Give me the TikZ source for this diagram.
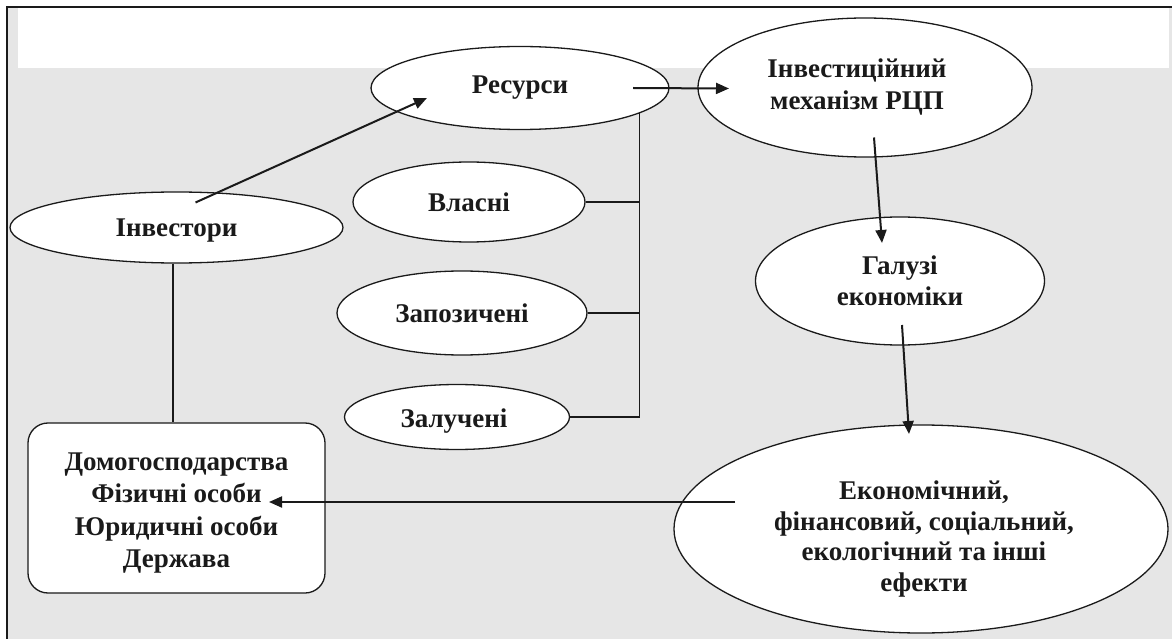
\documentclass[tikz,border=0pt]{standalone}
\usepackage{fontspec}
\setmainfont{Liberation Serif}
\usetikzlibrary{shapes.geometric,arrows.meta}
\definecolor{bggray}{HTML}{E6E6E6}
\definecolor{ink}{HTML}{1A1A1A}
\begin{document}
\begin{tikzpicture}[x=1bp,y=-1bp,
  lbl/.style={font=\fontsize{27bp}{31.5bp}\selectfont\bfseries, text=ink, align=center},
  oval/.style={ellipse, draw=ink, line width=1.3bp, fill=white, inner sep=0pt, lbl},
  arr/.style={draw=ink, line width=2bp, -{Triangle[length=13bp,width=11bp]}},
  link/.style={draw=ink, line width=1.3bp}]
\useasboundingbox (0,0) rectangle (1172,639);
\fill[bggray] (7,7) rectangle (1172,639);
\fill[white] (18,7) rectangle (1169,68);
\draw[ink, line width=2.2bp] (7,639) -- (7,7) -- (1172,7);

\node[oval, minimum width=298bp, minimum height=83bp] (res) at (520,88) {Ресурси};
\node[oval, minimum width=334bp, minimum height=139bp] (mech) at (865,87.5) {};
\node[lbl, inner sep=0pt] (mechtext) at (857,87) {Інвестиційний\\механізм РЦП};
\node[oval, minimum width=333bp, minimum height=71bp] (inv) at (176.5,227.5) {};
\node[lbl, inner sep=0pt] (invtext) at (176.5,231) {Інвестори};
\node[oval, minimum width=232bp, minimum height=80bp] (vl) at (469,202) {Власні};
\node[oval, minimum width=250bp, minimum height=84bp] (zap) at (462,313) {Запозичені};
\node[oval, minimum width=225bp, minimum height=65bp] (zal) at (457,417) {};
\node[lbl, inner sep=0pt] (zaltext) at (454,421) {Залучені};
\node[oval, minimum width=289bp, minimum height=128bp] (gal) at (900,281) {Галузі\\економіки};
\node[oval, minimum width=494bp, minimum height=208bp] (ef) at (921,529) {};
\node[lbl, inner sep=0pt, font=\fontsize{27bp}{30.5bp}\selectfont\bfseries] (eftext) at (924,539) {Економічний,\\фінансовий, соціальний,\\екологічний та інші\\ефекти};
\node[draw=ink, line width=1.3bp, fill=white, rounded corners=20bp, minimum width=297bp, minimum height=170bp, lbl, font=\fontsize{27bp}{32.3bp}\selectfont\bfseries] (box) at (176.5,508) {};
\node[lbl, inner sep=0pt, font=\fontsize{27bp}{32.3bp}\selectfont\bfseries] (boxtext) at (176.5,513) {Домогосподарства\\Фізичні особи\\Юридичні особи\\Держава};

\draw[link] (res.-12.6) -- (res.-12.6 |- zal.east) -- coordinate[pos=0] (bus) (zal.east);
\draw[link] (vl.east) -- (vl.east -| res.-12.6);
\draw[link] (zap.east) -- (zap.east -| res.-12.6);
\draw[link] ([xshift=-3.5]inv.south) -- ([xshift=-3.5]inv.south |- box.north);

\draw[arr] ([shift={(19,-25)}]inv.center) -- ([shift={(-93,10)}]res.center);
\draw[arr] ([shift={(113,0)}]res.center) -- ([shift={(-136,1)}]mech.center);
\draw[arr] ([shift={(9,50)}]mech.center) -- ([shift={(-18,-38)}]gal.center);
\draw[arr] ([shift={(2,44)}]gal.center) -- ([shift={(-12,-95)}]ef.center);
\draw[arr] ([shift={(-186,-27)}]ef.center) -- ([shift={(92.5,-6)}]box.center);
\end{tikzpicture}
\end{document}
